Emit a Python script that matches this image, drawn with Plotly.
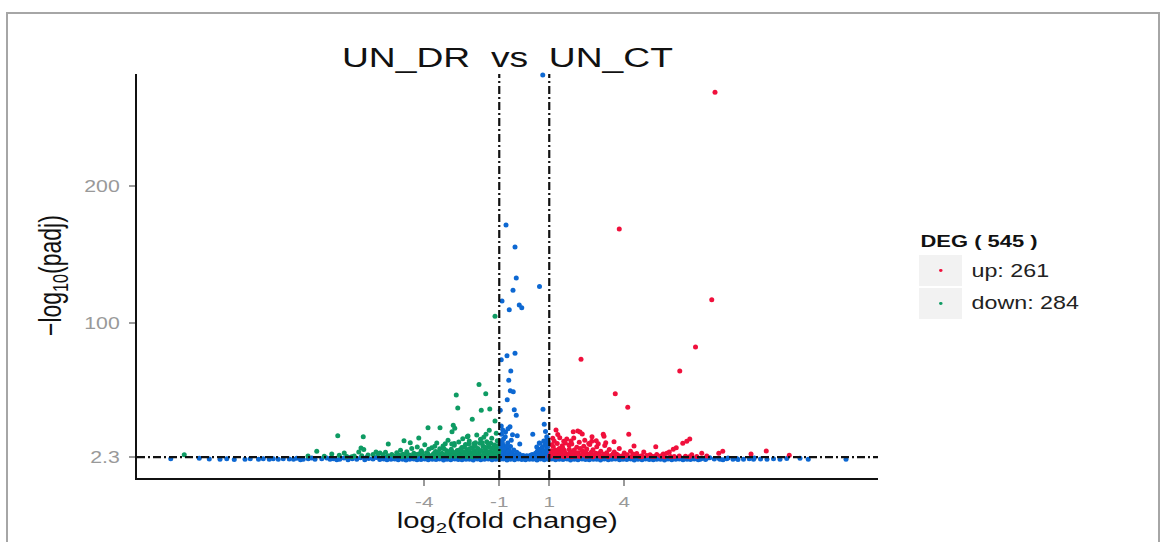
import plotly.graph_objects as go

# ---- data: log2(fold change) vs -log10(padj) ----
# up-regulated genes (red)
up_points = [
    (7.63, 268.3), (3.80, 168.6), (7.50, 117.1), (6.85, 82.5), (6.22, 65.1), (2.27, 73.6),
    (3.64, 48.5), (4.14, 38.6), (1.27, 22.0), (1.96, 20.8), (2.14, 21.3), (2.23, 20.6),
    (2.32, 19.1), (1.58, 13.8), (1.79, 11.1), (1.87, 14.0), (3.16, 18.9), (3.19, 17.4),
    (2.71, 17.1), (2.88, 14.2), (2.70, 13.8), (3.59, 13.5), (3.26, 12.8), (4.18, 18.9),
    (4.39, 10.4), (6.62, 15.5), (6.34, 12.3), (6.08, 9.1), (5.96, 8.0), (5.26, 9.8),
    (7.10, 5.0), (7.78, 5.0), (7.94, 6.5), (9.07, 4.5), (9.68, 6.7), (10.60, 3.6),
    (4.70, 3.3), (5.03, 4.0), (5.56, 4.5), (5.70, 5.0), (5.80, 6.0), (6.50, 13.8),
    (1.04, 3.4), (1.08, 6.8), (1.12, 4.6), (1.16, 9.9), (1.20, 3.0), (1.24, 7.5),
    (1.28, 5.2), (1.32, 12.1), (1.36, 3.9), (1.40, 8.6), (1.44, 6.0), (1.48, 4.3),
    (1.52, 10.6), (1.56, 2.8), (1.60, 7.2), (1.65, 5.0), (1.70, 15.5), (1.75, 3.6),
    (1.80, 8.0), (1.85, 6.2), (1.90, 11.8), (1.95, 4.0), (2.00, 7.4), (2.05, 2.9),
    (2.10, 9.5), (2.15, 5.4), (2.20, 13.0), (2.26, 3.5), (2.32, 6.7), (2.38, 10.2),
    (2.44, 4.6), (2.50, 8.1), (2.56, 3.1), (2.62, 11.4), (2.68, 5.8), (2.75, 7.6),
    (2.82, 3.8), (2.90, 9.8), (2.98, 4.9), (3.06, 6.5), (3.14, 3.2), (3.22, 10.7),
    (3.30, 5.5), (3.40, 7.8), (3.50, 3.6), (3.60, 6.0), (3.70, 4.4), (3.80, 8.6),
    (3.90, 3.0), (4.00, 5.2), (4.12, 3.9), (4.25, 6.6), (4.38, 3.3), (4.50, 4.8),
    (4.62, 2.7), (4.78, 5.9), (4.90, 3.5), (5.10, 2.9), (5.30, 4.2), (5.45, 3.0),
    (5.85, 2.6), (6.20, 3.1), (6.45, 2.8), (6.70, 3.9), (6.90, 2.6), (7.30, 3.0),
    (1.02, 2.6), (1.30, 2.5), (1.60, 2.7), (1.90, 2.5), (2.20, 2.6), (2.48, 2.8),
    (2.75, 2.5), (3.05, 2.7), (3.35, 2.5), (3.65, 2.8), (3.95, 2.5), (4.30, 2.6),
    (4.70, 2.5), (5.20, 2.6), (5.60, 2.5), (6.00, 2.7), (6.60, 2.5),
    (1.06, 4.4), (1.14, 5.8), (1.22, 4.2), (1.30, 6.4), (1.38, 2.9), (1.46, 5.4),
    (1.54, 8.8), (1.62, 4.1), (1.72, 3.2), (1.82, 5.2), (1.92, 3.4), (2.02, 5.6),
    (2.12, 4.0), (2.24, 8.6), (2.36, 3.9), (2.46, 6.4), (2.58, 4.4), (2.72, 3.4),
    (2.86, 5.0), (3.00, 3.6), (3.18, 4.4), (3.36, 3.2), (3.56, 4.6), (3.76, 3.5),
    (4.05, 3.2), (4.35, 4.5), (1.10, 11.2), (1.20, 13.8), (1.42, 16.4), (1.64, 12.6),
    (1.98, 16.2), (2.42, 14.6), (2.58, 12.2), (2.96, 11.9), (1.34, 18.8), (1.14, 16.0),
]

# down-regulated genes (green)
down_points = [
    (-1.17, 105.0), (-1.81, 55.2), (-2.72, 47.6), (-1.54, 48.5), (-2.66, 38.1), (-1.72, 36.4),
    (-1.38, 37.3), (-2.08, 29.8), (-1.17, 28.6), (-2.84, 25.4), (-2.78, 23.3), (-2.89, 20.8),
    (-1.40, 21.8), (-1.90, 18.4), (-1.53, 18.9), (-2.25, 17.7), (-3.85, 23.7), (-3.37, 23.7),
    (-2.28, 17.1), (-7.46, 17.9), (-6.44, 17.1), (-5.44, 11.8), (-4.81, 14.2), (-4.56, 12.8),
    (-4.22, 16.2), (-8.30, 6.5), (-6.53, 8.9), (-6.42, 7.7), (-6.62, 6.0), (-7.40, 3.6),
    (-8.65, 3.1), (-13.60, 4.0), (-5.93, 6.0), (-5.77, 5.2), (-3.16, 12.0), (-2.80, 12.2),
    (-2.22, 11.8), (-2.02, 12.0), (-1.77, 12.4), (-1.34, 12.3),
    (-5.45, 3.2), (-5.30, 4.1), (-5.20, 2.8), (-5.10, 5.5), (-5.00, 3.6), (-4.95, 7.2),
    (-4.85, 4.4), (-4.75, 2.9), (-4.70, 6.1), (-4.60, 3.8), (-4.50, 8.5), (-4.42, 5.0),
    (-4.35, 3.1), (-4.28, 9.6), (-4.20, 4.6), (-4.12, 6.8), (-4.05, 3.4), (-3.98, 11.2),
    (-3.90, 5.4), (-3.82, 7.9), (-3.75, 3.0), (-3.70, 9.0), (-3.62, 4.8), (-3.55, 6.3),
    (-3.50, 12.6), (-3.44, 3.6), (-3.38, 8.4), (-3.30, 5.1), (-3.25, 10.3), (-3.18, 3.2),
    (-3.10, 6.9), (-3.05, 14.5), (-2.98, 4.4), (-2.92, 8.0), (-2.86, 5.9), (-2.80, 10.8),
    (-2.74, 3.5), (-2.68, 7.1), (-2.62, 13.2), (-2.56, 4.9), (-2.50, 9.3), (-2.45, 6.2),
    (-2.40, 3.1), (-2.35, 11.5), (-2.30, 7.8), (-2.25, 4.3), (-2.20, 14.0), (-2.15, 5.6),
    (-2.10, 9.1), (-2.05, 3.6), (-2.00, 7.0), (-1.95, 12.8), (-1.90, 4.8), (-1.85, 8.6),
    (-1.80, 6.0), (-1.75, 15.2), (-1.70, 3.3), (-1.65, 10.2), (-1.60, 5.3), (-1.55, 7.6),
    (-1.50, 13.5), (-1.45, 4.1), (-1.40, 9.4), (-1.35, 6.4), (-1.30, 16.0), (-1.25, 3.8),
    (-1.20, 11.0), (-1.16, 5.7), (-1.12, 8.2), (-1.08, 14.2), (-1.04, 4.5), (-1.02, 6.8),
    (-4.90, 2.6), (-4.40, 2.5), (-3.95, 2.7), (-3.60, 2.5), (-3.35, 2.8), (-3.00, 2.6),
    (-2.78, 2.9), (-2.55, 2.5), (-2.28, 2.7), (-2.08, 2.5), (-1.88, 2.8), (-1.68, 2.6),
    (-1.48, 2.9), (-1.28, 2.5), (-1.10, 2.7), (-7.10, 2.6), (-6.80, 3.0), (-6.50, 3.3),
    (-6.25, 3.7), (-6.05, 4.1), (-5.85, 4.6), (-5.65, 4.0), (-5.55, 5.8), (-8.00, 2.8),
    (-7.70, 4.5), (-7.20, 5.2), (-6.90, 2.5),
    (-1.06, 3.2), (-1.14, 4.0), (-1.22, 5.1), (-1.30, 3.0), (-1.38, 4.6), (-1.46, 6.2),
    (-1.54, 3.4), (-1.62, 4.4), (-1.72, 7.1), (-1.82, 3.9), (-1.92, 5.6), (-2.02, 4.5),
    (-2.12, 3.3), (-2.22, 6.4), (-2.32, 5.0), (-2.42, 4.0), (-2.52, 6.8), (-2.64, 3.9),
    (-2.76, 5.4), (-2.88, 3.4), (-3.02, 5.6), (-3.14, 4.3), (-3.28, 3.7), (-3.46, 5.9),
    (-3.66, 3.9), (-3.86, 4.6), (-4.08, 5.6), (-4.30, 4.1), (-4.55, 3.2), (-4.80, 3.8),
    (-1.09, 10.5), (-1.18, 7.0), (-1.27, 8.9), (-1.43, 11.6), (-1.58, 9.6), (-1.68, 12.8),
    (-1.96, 10.2), (-2.18, 8.3), (-2.40, 9.8), (-2.58, 7.6), (-2.90, 11.8), (-3.20, 8.2),
    (-3.58, 10.1), (-1.12, 19.6), (-1.62, 16.8), (-2.46, 15.6),
]

# genes that are not differentially expressed (blue)
ns_points = [
    (0.74, 281.0), (-0.73, 171.5), (-0.37, 155.5), (-0.32, 132.9), (-0.45, 123.9), (0.61, 126.6),
    (-0.89, 116.1), (-0.60, 109.8), (-0.20, 113.2), (-0.10, 111.2), (-0.37, 78.0), (-0.69, 76.2),
    (-0.92, 73.3), (-0.54, 65.0), (-0.62, 58.3), (-0.56, 50.7), (-0.44, 50.0), (-0.68, 44.1),
    (-0.40, 36.8), (-0.32, 32.7), (-0.96, 36.4), (-0.92, 25.0), (-0.57, 24.4), (-0.65, 23.0),
    (-0.76, 17.1), (-0.28, 17.9), (-0.18, 11.8), (0.34, 18.9), (0.75, 37.1), (0.80, 26.2),
    (0.60, 12.5), (0.90, 17.1), (0.63, 12.3), (0.92, 16.0),
    (-0.95, 9.5), (-0.90, 7.8), (-0.85, 11.0), (-0.80, 6.2), (-0.78, 9.0), (-0.72, 5.5),
    (-0.70, 8.0), (-0.66, 12.5), (-0.62, 4.8), (-0.60, 7.0), (-0.55, 10.0), (-0.50, 5.5),
    (-0.45, 4.2), (-0.42, 7.5), (-0.35, 3.8), (-0.30, 5.8), (-0.25, 3.2), (-0.20, 4.5),
    (-0.12, 3.0), (-0.05, 3.5), (0.02, 2.8), (0.10, 3.2), (0.18, 2.9), (0.25, 3.6),
    (0.32, 4.2), (0.40, 3.5), (0.45, 5.0), (0.52, 6.5), (0.56, 4.4), (0.62, 8.0),
    (0.68, 5.6), (0.72, 9.5), (0.76, 7.0), (0.82, 11.0), (0.86, 6.0), (0.90, 8.8),
    (0.95, 13.5), (0.97, 5.0), (-0.98, 14.0), (-0.88, 13.0), (-0.83, 15.5), (-0.75, 20.5),
    (-0.52, 14.5), (-0.47, 18.5), (0.50, 9.6), (0.85, 21.0),
    (-0.97, 3.0), (-0.93, 4.5), (-0.90, 2.6), (-0.86, 3.8), (-0.83, 5.2), (-0.80, 3.0),
    (-0.76, 4.2), (-0.74, 2.7), (-0.68, 3.5), (-0.64, 6.2), (-0.58, 2.8), (-0.53, 3.9),
    (-0.48, 2.6), (-0.40, 2.9), (-0.33, 2.5), (-0.15, 2.5), (0.05, 2.4), (0.22, 2.5),
    (0.36, 2.7), (0.48, 3.0), (0.58, 3.3), (0.66, 2.6), (0.70, 4.2), (0.74, 3.1),
    (0.79, 5.1), (0.83, 2.8), (0.88, 4.0), (0.93, 3.2), (0.96, 6.5), (0.99, 2.7),
    (0.94, 9.8), (0.88, 12.5), (-0.97, 11.5), (-0.93, 5.8), (-0.82, 8.2), (-0.91, 19.0),
    (-0.86, 22.0), (-0.68, 10.5), (0.78, 14.0),
    # far left tail
    (-14.14, 1.1), (-13.00, 1.4), (-12.60, 0.9), (-12.17, 0.7), (-11.90, 1.1), (-11.60, 0.5),
    (-11.17, 0.7), (-10.96, 1.1), (-10.63, 0.7), (-10.44, 1.1), (-10.20, 0.6), (-10.04, 1.1),
    (-9.84, 0.7), (-9.64, 1.1), (-9.40, 0.9), (-9.23, 0.7), (-9.10, 1.4), (-8.95, 0.3),
    (-8.84, 0.7), (-8.64, 1.1), (-8.50, 1.6), (-8.37, 0.7), (-8.10, 1.1), (-7.90, 1.5),
    (-7.77, 0.7), (-7.64, 1.1), (-7.50, 0.4),
    (-7.38, 0.6), (-7.21, 1.5), (-7.05, 0.3), (-6.95, 2.0), (-6.88, 1.1), (-6.70, 0.7),
    (-6.55, 1.8), (-6.38, 0.4), (-6.30, 2.1), (-6.22, 1.3), (-6.05, 0.8), (-5.92, 1.9),
    # main band, lower row
    (-5.78, 0.5), (-5.62, 0.8), (-5.49, 0.3), (-5.33, 0.6), (-5.18, 0.9), (-5.04, 0.4),
    (-4.87, 0.7), (-4.73, 0.2), (-4.58, 0.6), (-4.42, 0.8), (-4.29, 0.4), (-4.13, 0.5),
    (-3.98, 0.9), (-3.84, 0.3), (-3.68, 0.7), (-3.53, 0.5), (-3.39, 0.8), (-3.23, 0.2),
    (-3.09, 0.6), (-2.94, 0.4), (-2.78, 0.9), (-2.64, 0.5), (-2.49, 0.3), (-2.33, 0.7),
    (-2.19, 0.6), (-2.04, 0.2), (-1.88, 0.8), (-1.74, 0.4), (-1.59, 0.6), (-1.44, 0.9),
    (-1.29, 0.3), (-1.14, 0.7), (-0.99, 0.5), (-0.84, 0.8), (-0.69, 0.2), (-0.55, 0.6),
    (-0.39, 0.4), (-0.24, 0.9), (-0.10, 0.5), (0.05, 0.3), (0.21, 0.7), (0.35, 0.6),
    (0.51, 0.2), (0.65, 0.8), (0.80, 0.4), (0.95, 0.6), (1.10, 0.9), (1.25, 0.3),
    (1.40, 0.7), (1.55, 0.5), (1.71, 0.8), (1.85, 0.2), (2.00, 0.6), (2.15, 0.4),
    (2.31, 0.9), (2.45, 0.5), (2.60, 0.3), (2.76, 0.7), (2.90, 0.6), (3.05, 0.2),
    (3.20, 0.8), (3.36, 0.4), (3.50, 0.6), (3.65, 0.9), (3.81, 0.3), (3.95, 0.7),
    (4.10, 0.5), (4.26, 0.8), (4.40, 0.2), (4.55, 0.6), (4.71, 0.4), (4.85, 0.9),
    (5.00, 0.5), (5.16, 0.3), (5.30, 0.7), (5.45, 0.6), (5.61, 0.2), (5.75, 0.8),
    (5.90, 0.4), (6.06, 0.6), (6.20, 0.9), (6.35, 0.3), (6.51, 0.7), (6.65, 0.5),
    (6.80, 0.8), (6.96, 0.4),
    # main band, upper row
    (-5.70, 1.6), (-5.55, 2.0), (-5.41, 1.4), (-5.26, 1.8), (-5.11, 2.1), (-4.95, 1.5),
    (-4.80, 1.9), (-4.65, 1.3), (-4.50, 1.7), (-4.36, 2.0), (-4.21, 1.5), (-4.05, 1.8),
    (-3.91, 2.2), (-3.76, 1.4), (-3.61, 1.9), (-3.46, 1.6), (-3.31, 2.0), (-3.16, 1.3),
    (-3.01, 1.7), (-2.86, 2.1), (-2.71, 1.5), (-2.56, 1.8), (-2.41, 1.4), (-2.26, 2.0),
    (-2.11, 1.6), (-1.96, 1.9), (-1.81, 1.3), (-1.66, 1.7), (-1.51, 2.1), (-1.36, 1.5),
    (-1.21, 1.8), (-1.06, 2.2), (-0.91, 1.6), (-0.76, 1.9), (-0.62, 1.4), (-0.47, 2.0),
    (-0.32, 1.7), (-0.17, 1.5), (-0.02, 1.9), (0.13, 1.3), (0.28, 1.8), (0.43, 2.1),
    (0.58, 1.6), (0.73, 1.9), (0.88, 1.4), (1.03, 2.0), (1.18, 1.7), (1.33, 1.5),
    (1.48, 2.1), (1.63, 1.3), (1.78, 1.8), (1.93, 2.0), (2.08, 1.5), (2.23, 1.9),
    (2.38, 1.4), (2.53, 1.7), (2.68, 2.1), (2.83, 1.6), (2.98, 1.9), (3.13, 1.3),
    (3.28, 1.8), (3.43, 2.0), (3.58, 1.5), (3.73, 1.7), (3.88, 2.2), (4.03, 1.4),
    (4.18, 1.9), (4.33, 1.6), (4.48, 2.0), (4.63, 1.3), (4.78, 1.8), (4.93, 1.5),
    (5.08, 2.1), (5.23, 1.7), (5.38, 1.4), (5.53, 1.9), (5.68, 1.6), (5.83, 2.0),
    (5.98, 1.3), (6.13, 1.8), (6.28, 1.5), (6.43, 1.9), (6.58, 1.4), (6.73, 1.7),
    (6.88, 1.2),
    # right tail
    (7.04, 0.6), (7.10, 1.2), (7.25, 0.5), (7.30, 1.4), (7.42, 1.7), (7.60, 0.8),
    (7.78, 1.4), (7.83, 0.6), (7.95, 0.4), (8.10, 1.0), (8.15, 1.6), (8.35, 0.6),
    (8.50, 1.3), (8.55, 0.5), (8.77, 0.7), (9.00, 1.1), (9.17, 0.6), (9.20, 1.5),
    (9.45, 0.9), (9.71, 0.6), (9.97, 1.0), (10.23, 0.7), (10.50, 1.2), (11.03, 1.4),
    (11.36, 0.6), (12.87, 0.6),
]

up_count = 261
down_count = 284

fc_cut = [-1, 1]
padj_cut = 2.3

x_ticks = [-4, -1, 1, 4]
x_tick_text = ["-4", "-1", "1", "4"]
y_ticks = [2.3, 100, 200]
y_tick_text = ["2.3", "100", "200"]

RED = "#F0103C"
GREEN = "#0E9B63"
BLUE = "#0D68D2"
FONT = "Liberation Sans, Arial, Helvetica, sans-serif"

# plot area in pixels
W, H = 1162, 542
L, R, T, B = 137, 878, 74, 478


def px(xp):
    return (xp - L) / (R - L)


def py(yp):
    return (B - yp) / (B - T)


fig = go.Figure()
for pts, color in [(ns_points, BLUE), (down_points, GREEN), (up_points, RED)]:
    fig.add_trace(go.Scatter(
        x=[p[0] for p in pts], y=[p[1] for p in pts], mode="markers",
        marker=dict(size=5, color=color, line=dict(width=0)),
        cliponaxis=False, showlegend=False, hoverinfo="skip",
    ))

dash = "8px,3px,2px,3px"
shapes = []
for xc in fc_cut:
    shapes.append(dict(type="line", xref="x", yref="paper", x0=xc, x1=xc, y0=0, y1=1,
                       line=dict(color="#111111", width=2.2, dash=dash), layer="above"))
shapes.append(dict(type="line", xref="paper", yref="y", x0=0, x1=1, y0=padj_cut, y1=padj_cut,
                   line=dict(color="#111111", width=2.2, dash=dash), layer="above"))

# outer frame
shapes.append(dict(type="rect", xref="paper", yref="paper", x0=px(7), x1=px(1159), y0=py(560), y1=py(13),
                   line=dict(color="#a6a6a6", width=2), fillcolor="rgba(0,0,0,0)", layer="below"))

# legend keys
for (y0, y1), color in [((255, 286), RED), ((288, 319), GREEN)]:
    shapes.append(dict(type="rect", xref="paper", yref="paper", x0=px(919), x1=px(962), y0=py(y1), y1=py(y0),
                       line=dict(width=0), fillcolor="#f2f2f2", layer="below"))
    cy = (y0 + y1) / 2
    shapes.append(dict(type="circle", xref="paper", yref="paper", x0=px(939.0), x1=px(942.6),
                       y0=py(cy + 1.4), y1=py(cy - 1.4), line=dict(width=0), fillcolor=color))

annotations = [
    dict(text="UN_DR  vs  UN_CT", x=px(507), y=py(58), xref="paper", yref="paper", showarrow=False,
         xanchor="center", yanchor="middle", font=dict(size=28, color="#111111", family=FONT)),
    dict(text="log<sub>2</sub>(fold change)", x=px(507), y=py(522), xref="paper", yref="paper",
         showarrow=False, xanchor="center", yanchor="middle", font=dict(size=22, color="#111111", family=FONT)),
    dict(text="\u2212log<sub>10</sub>(padj)", x=px(52), y=py(276), xref="paper", yref="paper",
         showarrow=False, textangle=-90, xanchor="center", yanchor="middle",
         font=dict(size=23, color="#111111", family=FONT)),
    dict(text=f"<b>DEG ( {up_count + down_count} )</b>", x=px(918), y=py(241), xref="paper", yref="paper",
         showarrow=False, xanchor="left", yanchor="middle", font=dict(size=16.5, color="#111111", family=FONT)),
    dict(text=f"up: {up_count}", x=px(969), y=py(270.5), xref="paper", yref="paper",
         showarrow=False, xanchor="left", yanchor="middle", font=dict(size=17.5, color="#222222", family=FONT)),
    dict(text=f"down: {down_count}", x=px(969), y=py(303), xref="paper", yref="paper",
         showarrow=False, xanchor="left", yanchor="middle", font=dict(size=17.5, color="#222222", family=FONT)),
]
# horizontal anchor kept fixed while widening each annotation's glyphs
annotation_anchor = ["center", "center", "center", "left", "left", "left"]

fig.update_layout(
    width=W, height=H, autosize=False,
    margin=dict(l=L, r=W - R, t=T, b=H - B, pad=0),
    paper_bgcolor="white", plot_bgcolor="white",
    shapes=shapes, annotations=annotations, showlegend=False,
    font=dict(family=FONT),
)
fig.update_xaxes(
    range=[-15.49, 14.15], showgrid=False, zeroline=False,
    showline=True, linecolor="#111111", linewidth=2,
    tickmode="array", tickvals=x_ticks, ticktext=x_tick_text,
    ticks="outside", ticklen=6, tickwidth=1.5, tickcolor="#9a9a9a",
    tickfont=dict(size=15.5, color="#999999", family=FONT), ticklabelstandoff=2,
)
fig.update_yaxes(
    range=[-13.0, 281.7], showgrid=False, zeroline=False,
    showline=True, linecolor="#111111", linewidth=2,
    tickmode="array", tickvals=y_ticks, ticktext=y_tick_text,
    ticks="outside", ticklen=6, tickwidth=1.5, tickcolor="#9a9a9a",
    tickfont=dict(size=16, color="#999999", family=FONT), ticklabelstandoff=6,
)

# text is set in a horizontally widened face: scale each label in x about its anchor
widen_js = """
var gd = document.getElementById('{plot_id}');
var S = 1.33;
var anchors = %s;
function widen(el, mode) {
  var r = el.getBoundingClientRect();
  var ax = mode === 'left' ? r.left : (mode === 'right' ? r.right : (r.left + r.right) / 2);
  var svg = el.ownerSVGElement;
  var p = svg.createSVGPoint(); p.x = ax; p.y = r.top;
  var q = p.matrixTransform(el.parentNode.getScreenCTM().inverse());
  var old = el.getAttribute('transform') || '';
  el.setAttribute('transform', 'translate(' + q.x + ',0) scale(' + S + ',1) translate(' + (-q.x) + ',0) ' + old);
}
gd.querySelectorAll('g.annotation').forEach(function (g) {
  var i = parseInt(g.getAttribute('data-index'), 10);
  widen(g, anchors[i] || 'center');
});
gd.querySelectorAll('g.xtick text').forEach(function (t) { widen(t, 'center'); });
gd.querySelectorAll('g.ytick text').forEach(function (t) { widen(t, 'right'); });
""" % str(annotation_anchor).replace("'", '"')

fig.write_html("out.html", post_script=widen_js)
